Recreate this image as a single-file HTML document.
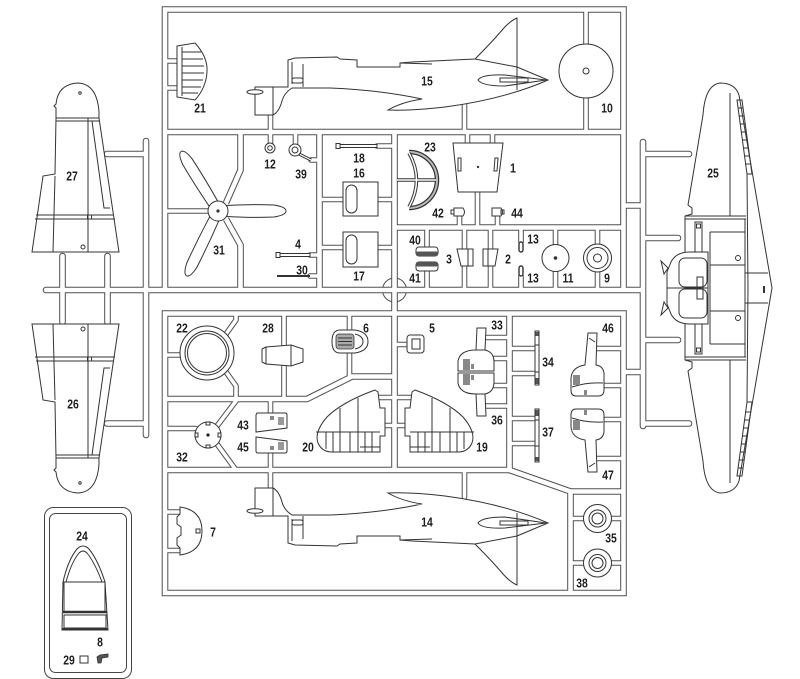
<!DOCTYPE html>
<html><head><meta charset="utf-8">
<style>
html,body{margin:0;padding:0;background:#fff;width:800px;height:679px;overflow:hidden}
svg{display:block}
.rd{fill:none;stroke:#505050;stroke-width:6.6}
.rw{fill:none;stroke:#fff;stroke-width:4.6}
.sd{fill:none;stroke:#505050;stroke-width:6.6;stroke-linecap:round}
.sw{fill:none;stroke:#fff;stroke-width:4.6;stroke-linecap:round}
.gd{fill:none;stroke:#505050;stroke-width:5.6;stroke-linecap:round;stroke-linejoin:round}
.gw{fill:none;stroke:#fff;stroke-width:3.6;stroke-linecap:round;stroke-linejoin:round}
.p{fill:#fff;stroke:#333;stroke-width:1}
.l{fill:none;stroke:#333;stroke-width:1}
.t{font-family:"Liberation Sans",Arial,sans-serif;font-weight:bold;font-size:13px;fill:#1e1e1e;text-anchor:middle}
</style></head>
<body>
<svg width="800" height="679" viewBox="0 0 800 679" xmlns="http://www.w3.org/2000/svg" xmlns:xlink="http://www.w3.org/1999/xlink">
<defs>
<path id="R" d="M165,290 L165,9.5 L623.5,9.5 L623.5,290 M165,132 L623.5,132 M240.5,132 L240.5,170 L226,203 M226,219 L240.5,245 L240.5,290 M319.5,132 L319.5,290 M394.5,132 L394.5,470 M394.5,227.5 L623.5,227.5 M165,313.5 L623.5,313.5 L623.5,593 L165,593 Z M165,399 L307,399 L352,376.5 L394.5,376.5 M165,470 L509.5,470 M509.5,313.5 L509.5,470 L570.5,491.5 L623.5,491.5 M570.5,491.5 L570.5,593 M623.5,205.5 L643,205.5 M623.5,372 L643,372"/>
<path id="S" d="M46,290 L643,290 M146,141 L146,435 M107,154 L146,154 M107,423.5 L146,423.5 M62.5,256 L62.5,322 M107.5,256 L107.5,322 M643,142 L643,426 M643,154 L689,154 M643,238 L678,238 M643,340 L678,340 M643,423.5 L689,423.5"/>
<path id="G" d="M166,61 L178,61 M166,88 L178,88 M586,10 L586,44 M586,98 L586,132 M270.5,114 L270.5,132 M464.5,105 L464.5,132 M270.5,132 L270.5,143 M295.5,132 L295.5,145 M311,160 L319.5,160 M165,211 L209,211 M310,255 L319.5,255 M310,276 L319.5,276 M377,146 L394.5,146 M319.5,199.5 L343,199.5 M378,199.5 L394.5,199.5 M319.5,247.5 L343,247.5 M378,247.5 L394.5,247.5 M467.5,132 L467.5,143 M492.5,132 L492.5,143 M477.5,192 L477.5,227.5 M459.5,217 L459.5,227.5 M497.5,217 L497.5,227.5 M427,227.5 L427,248 M427,270 L427,290 M464.5,227.5 L464.5,249 M464.5,266 L464.5,290 M490.5,227.5 L490.5,249 M490.5,266 L490.5,290 M521,227.5 L521,242 M521,276 L521,290 M555.5,227.5 L555.5,245 M555.5,271 L555.5,290 M597.5,227.5 L597.5,244 M597.5,272 L597.5,290 M165,355 L181,355 M226,334 L236,320 L236,313.5 M226,372 L236,386 L236,399 M284,313.5 L284,346 M284,365 L284,399 M349.5,313.5 L349.5,331 M349.5,352 L349.5,376.5 M394.5,344.5 L408,344.5 M165,428.5 L196,428.5 M217,426 L236,401 M217,444 L236,470 M270.5,399 L270.5,414 M270.5,452 L270.5,470 M378,397.5 L411,397.5 M378,425.5 L411,425.5 M486,337.5 L509.5,337.5 M493,358.5 L509.5,358.5 M493,385.5 L509.5,385.5 M486,406 L509.5,406 M509.5,348.5 L536,348.5 M509.5,373.5 L536,373.5 M509.5,418.5 L536,418.5 M509.5,443.5 L536,443.5 M597,348.5 L623.5,348.5 M603,385.5 L623.5,385.5 M603,419.5 L623.5,419.5 M597,458.5 L623.5,458.5 M165,512 L181,512 M165,550.5 L181,550.5 M270.5,470 L270.5,488 M464.5,470 L464.5,497 M570.5,518.5 L584,518.5 M611,518.5 L623.5,518.5 M570.5,563 L584,563 M611,563 L623.5,563"/>
<g id="W27">
<path class="p" d="M56,118 L56,108 L54,106 L56,104 Q58,84 78,83 Q97,84 99,112 L99,118 L119,252 L32,252 L43,176 L55,174 Z"/>
<path class="l" d="M56,118 L99,118 M56,121 L100,121 M55,176 L53,252 M88,118 L88,252 M92,121 L104,208 L110,208 M36,215 L114,215 M35,219 L115,219"/>
<rect class="l" x="87.5" y="215" width="4" height="4"/>
<circle class="l" cx="83" cy="247" r="2"/>
<circle class="l" cx="80" cy="93" r="1.2"/>
</g>
<g id="W25">
<path class="l" d="M730,93 L730,216 M737,100 L742,100 L752,174 L747,174 Z M738,108 L743,108 M739,116 L744,116 M740,124 L745,124 M741,132 L746,132 M742,140 L747,140 M743,148 L748,148 M744,156 L749,156 M745,164 L750,164 M747,174 L748,288 M685,216 L746,216 M685,219 L746,219 M710,232 L710,288 M745,219 L745,288 M710,232 L745,232 M710,265 L745,265 M745,273 L768,273"/>
<circle class="l" cx="738" cy="258" r="2.5"/>
<rect class="p" x="695" y="222" width="7" height="30"/>
<rect class="l" x="696.5" y="224" width="4" height="4"/>
<path class="p" d="M668,268 L661,261 L664,274 Z"/>
<path class="p" d="M708,288 L667,288 L667,272 L671,262 Q676,252 690,252 L708,252 Z"/>
<rect class="l" x="679" y="258" width="28" height="29" rx="6"/>
<rect class="l" x="697" y="277" width="6" height="11"/>
</g>
<g id="F15">
<path class="p" d="M255,87 L288,87 L288,60 L295,58 L337,57 L340,59 L357,60 L357,67 L400,67 L400,63 L412,62 L475,59 Q492,42 503,29 Q510,21 517,18 L517,67 L548,80 Q505,99 445,107 Q410,111 388,110 Q402,102 422,99 Q380,90 330,88 L292,88 Q284,93 282,101 Q279,112 273,115 L255,115 Z"/>
<path class="l" d="M475,59 L517,67 M517,67 L517,90 M400,63 L432,64 M292,62 L292,84 M303,64 L303,87 M478,80 Q482,74 505,75 L546,80 L505,86 Q482,86 478,80 Z M500,78 L528,78 L528,82 L500,82 Z M273,87 L273,115"/>
<rect class="l" x="292" y="78" width="11" height="5" rx="2"/>
<ellipse class="p" cx="255" cy="92" rx="8" ry="2.3"/>
</g>
<g id="P19">
<path class="p" d="M415,390 Q448,402 463,417 Q476,432 472,443 Q468,452 458,452 L410,452 L410,436 L405,436 L405,408 L410,408 L412,392 Z"/>
<path class="l" d="M432,398 L432,452 M450,408 L450,452 M410,432 L474,432 M418,432 L418,452 M425,432 L425,452 M440,432 L440,452 M457,432 L457,452 M464,432 L464,449 M410,447 L430,447"/>
</g>
<g id="P33">
<path class="p" d="M477,328 L486,328 L485,350 Q494,352 494,362 L494,371 L458,371 L458,361 Q460,350 476,350 Z"/>
<path class="l" d="M476,350 L485,350"/>
<rect x="463" y="359" width="7" height="11" fill="#888"/><rect x="471" y="364" width="3" height="5" fill="#888"/>
</g>
<g id="P46">
<path class="p" d="M588,333 L597,333 L596,365 Q603,366 604,373 L604,390 Q604,396 598,396 L576,396 Q571,396 571,390 L571,378 Q572,367 585,365 Z"/>
<path class="l" d="M572,387 Q587,382 603,383 M589,338 L595,342"/>
<rect x="573" y="375" width="7" height="10" fill="#888"/><rect x="584" y="390" width="3" height="5" fill="#888"/>
</g>
<g id="RING">
<circle class="p" cx="0" cy="0" r="14"/><circle class="l" cx="0" cy="0" r="8.5"/><circle class="l" cx="0" cy="0" r="5.5"/>
</g>
</defs>

<rect width="800" height="679" fill="#fff"/>

<!-- runners: dark pass then white pass -->
<use href="#R" xlink:href="#R" class="rd"/>
<use href="#S" xlink:href="#S" class="sd"/>
<use href="#G" xlink:href="#G" class="gd"/>
<circle cx="394.5" cy="290" r="12" fill="none" stroke="#505050" stroke-width="1"/>
<use href="#R" xlink:href="#R" class="rw"/>
<use href="#S" xlink:href="#S" class="sw"/>
<use href="#G" xlink:href="#G" class="gw"/>

<!-- left wings -->
<use href="#W27" xlink:href="#W27"/>
<use href="#W27" xlink:href="#W27" transform="translate(0,576) scale(1,-1)"/>

<!-- right wing -->
<path class="p" d="M703,115 Q705,85 720,83 Q735,83 739,95 L772,288 L739,481 Q735,493 720,493 Q705,491 703,461 L688,371 L692,368 L692,362 L685,360 L685,216 L692,214 L692,208 L688,205 Z"/>
<use href="#W25" xlink:href="#W25"/>
<use href="#W25" xlink:href="#W25" transform="translate(0,576) scale(1,-1)"/>
<rect x="763" y="286" width="2" height="7" fill="#333"/>

<!-- top compartment -->
<path class="p" d="M177,46 L195,43 Q208,57 207,72 Q206,88 195,100 L177,97 Z"/>
<path class="l" d="M182,47 L182,96 M182,52 L201,52 M182,59 L203,59 M182,66 L204,66 M182,73 L204,73 M182,80 L203,80 M182,87 L201,87 M182,93 L198,93"/>
<use href="#F15" xlink:href="#F15"/>
<circle class="p" cx="586" cy="71" r="27"/>
<circle class="l" cx="586" cy="71" r="3"/>

<!-- propeller 31 -->
<g transform="translate(218,211)">
<path class="p" transform="rotate(-121.8)" d="M9,-5 Q35,-6 58,-5.5 Q70,-4 70,0 Q70,4 58,5.5 Q35,6 9,5 Z"/>
<path class="p" transform="rotate(115.8)" d="M9,-5 Q35,-6 60,-5.5 Q72,-4 72,0 Q72,4 60,5.5 Q35,6 9,5 Z"/>
<path class="p" d="M9,-5.5 Q35,-7 56,-6 Q68,-4 68,0 Q68,4 56,6 Q35,7 9,5.5 Z"/>
<circle class="p" r="10"/>
<circle r="1.6" fill="#333"/>
</g>

<circle class="p" cx="270" cy="148" r="5"/><circle class="l" cx="270" cy="148" r="2.3"/>
<path d="M299,154 L311,160" stroke="#333" stroke-width="3.2" fill="none"/>
<path d="M299,154 L311,160" stroke="#fff" stroke-width="1.2" fill="none"/>
<circle class="p" cx="295" cy="150" r="6"/><circle class="l" cx="295" cy="150" r="3"/>
<rect class="p" x="279" y="253.5" width="31" height="3"/><rect class="p" x="276" y="252.5" width="4" height="5"/>
<path d="M277,276 L310,276" stroke="#333" stroke-width="2" fill="none"/>

<rect class="p" x="339" y="144.5" width="38" height="3"/><rect class="p" x="336" y="143.5" width="4" height="5"/>
<rect class="p" x="343" y="182" width="35" height="34"/>
<rect class="p" x="346" y="185" width="11" height="28" rx="5.5" stroke-width="1.3"/>
<rect class="p" x="343" y="232" width="35" height="35"/>
<rect class="p" x="346" y="235" width="11" height="29" rx="5.5" stroke-width="1.3"/>

<path d="M409,152 A28,28 0 0 1 409,208" stroke="#333" stroke-width="4.5" fill="none"/>
<path d="M409,152 A28,28 0 0 1 409,208" stroke="#bbb" stroke-width="2" fill="none"/>
<path d="M397,180 L436,180 M409,153 Q424,180 409,207" stroke="#333" stroke-width="3.5" fill="none"/>
<path d="M397,180 L436,180 M409,153 Q424,180 409,207" stroke="#fff" stroke-width="1.5" fill="none"/>

<path class="p" d="M453,143 L503,143 L497,192 L458,192 Z"/>
<path class="l" d="M458,158 L461,158 L461,171 L458,171 Z M495,158 L498,158 L497,171 L494,171 Z"/>
<circle cx="478" cy="167" r="1.2" fill="#333"/>
<path class="p" d="M454,208 L463,208 Q466,212 463,216 L454,216 Z M451,210 L454,210 L454,214 L451,214 Z"/>
<path class="p" d="M492,208 L501,208 Q504,212 501,216 L492,216 Z M501,210 L504,210 L504,214 L501,214 Z"/>

<rect class="p" x="416" y="247" width="22" height="9" rx="3"/><rect x="416" y="251.5" width="22" height="4.5" rx="2" fill="#555"/>
<rect class="p" x="416" y="262" width="22" height="9" rx="3"/><rect x="416" y="262" width="22" height="4.5" rx="2" fill="#555"/>
<path class="p" d="M457,249 L473,249 L473,266 L461,266 Z"/><path class="l" d="M468,249 L468,266"/>
<path class="p" d="M483,249 L498,249 L495,266 L483,266 Z"/><path class="l" d="M488,249 L488,266"/>
<rect x="519" y="242" width="4" height="10" rx="2" fill="#fff" stroke="#333" stroke-width="1.4"/>
<rect x="519" y="266" width="4" height="10" rx="2" fill="#fff" stroke="#333" stroke-width="1.4"/>
<circle class="p" cx="555.5" cy="258" r="13.5"/><circle cx="555.5" cy="258" r="1.8" fill="#333"/>
<circle class="p" cx="597.5" cy="258" r="14"/><circle class="l" cx="597.5" cy="258" r="10.5"/><circle class="l" cx="597.5" cy="258" r="4"/>

<!-- lower section -->
<circle class="p" cx="207" cy="353" r="27"/>
<circle class="l" cx="207" cy="353" r="22" stroke-width="1.3"/>
<circle class="l" cx="207" cy="353" r="19.5" stroke-width="1.3"/>
<path class="p" d="M266,347 L291,345 L303,349 L303,362 L291,366 L266,364 Z"/>
<path class="l" d="M291,345 L291,366 M262,349 L262,362 M262,349 L266,347 M262,362 L266,364"/>
<path class="p" d="M340,330 L355,330 Q368,332 368,341.5 Q368,351 355,353 L340,353 Q332,353 332,341.5 Q332,330 340,330 Z"/>
<rect x="336" y="334" width="18" height="15" rx="3" fill="#aaa" stroke="#333" stroke-width="0.8"/>
<path class="l" d="M338,338 L352,338 M338,341.5 L352,341.5 M338,345 L352,345 M355,334 Q363,336 363,341.5 Q363,347 355,349"/>
<rect class="p" x="407" y="335" width="17" height="18" rx="3" stroke-width="1.3"/>
<rect class="l" x="412" y="339" width="8" height="10"/>

<circle class="p" cx="208" cy="435" r="13"/>
<circle cx="208" cy="435" r="1.6" fill="#222"/>
<path class="l" d="M206,422 L210,422 L210,425 L206,425 Z M206,445 L210,445 L210,448 L206,448 Z M195,433 L198,433 L198,437 L195,437 Z M218,433 L221,433 L221,437 L218,437 Z"/>

<path class="p" d="M257,413 L285,413 Q287,413 287,415 L287,428 L256,432 L256,415 Z"/>
<path class="p" d="M256,437 L287,441 L287,451 Q287,453 285,453 L258,453 Q256,453 256,451 Z"/>
<rect x="270" y="416" width="4" height="4" fill="#888"/><rect x="278" y="417" width="6" height="8" fill="#999"/>
<rect x="270" y="446" width="4" height="4" fill="#888"/><rect x="278" y="442" width="6" height="8" fill="#999"/>

<use href="#P19" xlink:href="#P19"/>
<use href="#P19" xlink:href="#P19" transform="translate(790,0) scale(-1,1)"/>
<use href="#P33" xlink:href="#P33"/>
<use href="#P33" xlink:href="#P33" transform="translate(0,744) scale(1,-1)"/>

<rect class="p" x="535" y="331" width="4" height="54"/>
<rect x="535.5" y="378" width="3" height="6" fill="#555"/><rect x="535.5" y="332" width="3" height="4" fill="#555"/>
<path class="l" d="M535,345 L539,345 M535,372 L539,372"/>
<rect class="p" x="535" y="409" width="4" height="53"/>
<rect x="535.5" y="410" width="3" height="6" fill="#555"/><rect x="535.5" y="457" width="3" height="4" fill="#555"/>
<path class="l" d="M535,420 L539,420 M535,446 L539,446"/>

<use href="#P46" xlink:href="#P46"/>
<use href="#P46" xlink:href="#P46" transform="translate(0,805) scale(1,-1)"/>

<!-- bottom compartment -->
<path class="p" d="M180,507 Q202,510 202,531 Q202,552 180,555 L180,548 L177,545 L177,538 L181,535 L181,527 L177,524 L177,517 L180,514 Z"/>
<rect class="l" x="196" y="529" width="4" height="4"/>
<use href="#F15" xlink:href="#F15" transform="translate(0,603) scale(1,-1)"/>
<use href="#RING" xlink:href="#RING" transform="translate(597.5,518.5)"/>
<use href="#RING" xlink:href="#RING" transform="translate(597.5,563)"/>

<!-- clear sprue -->
<rect x="44.5" y="507.5" width="87" height="171" rx="9" fill="none" stroke="#444" stroke-width="1"/>
<rect x="49.5" y="513.5" width="77" height="159" rx="6" fill="none" stroke="#444" stroke-width="1"/>
<path class="p" d="M62,630 L63,582 Q68,560 77,549 Q83,543 89,549 Q98,560 105,582 L108,630 Z" stroke-width="1.3"/>
<path class="l" d="M66,582 Q71,563 79,553 Q83,549 87,553 Q95,563 102,582"/>
<rect class="l" x="64" y="582" width="41" height="30"/>
<path d="M63,612 L107,612" stroke="#333" stroke-width="2.5"/>
<rect class="l" x="64" y="615" width="42" height="13"/>
<path d="M62,629 L108,629" stroke="#333" stroke-width="2"/>
<rect class="l" x="80" y="656" width="8" height="7"/>
<path d="M97,657 L100,655 L108,654 L108,657 L102,658 L101,663 L98,663 Z" fill="#555" stroke="#333" stroke-width="0.8"/>

<!-- labels, condensed -->
<g transform="scale(0.8,1)">
<text class="t" x="90" y="180.5">27</text>
<text class="t" x="91.25" y="408.5">26</text>
<text class="t" x="891.25" y="177.5">25</text>
<text class="t" x="250" y="112.5">21</text>
<text class="t" x="533.75" y="85.5">15</text>
<text class="t" x="758.75" y="112.5">10</text>
<text class="t" x="273.75" y="254.5">31</text>
<text class="t" x="337.5" y="168.5">12</text>
<text class="t" x="376.25" y="178.5">39</text>
<text class="t" x="372.5" y="248.5">4</text>
<text class="t" x="377.5" y="274.5">30</text>
<text class="t" x="448.75" y="162.5">18</text>
<text class="t" x="448.75" y="177.5">16</text>
<text class="t" x="448.75" y="280.5">17</text>
<text class="t" x="537.5" y="151.5">23</text>
<text class="t" x="641.25" y="172.5">1</text>
<text class="t" x="547.5" y="217.5">42</text>
<text class="t" x="646.25" y="217.5">44</text>
<text class="t" x="518.75" y="244.5">40</text>
<text class="t" x="518.75" y="282.5">41</text>
<text class="t" x="561.25" y="263.5">3</text>
<text class="t" x="635" y="263.5">2</text>
<text class="t" x="666.25" y="243.5">13</text>
<text class="t" x="666.25" y="282.5">13</text>
<text class="t" x="710" y="282.5">11</text>
<text class="t" x="758.75" y="282.5">9</text>
<text class="t" x="227.5" y="332.5">22</text>
<text class="t" x="335" y="332.5">28</text>
<text class="t" x="457.5" y="332.5">6</text>
<text class="t" x="540" y="332.5">5</text>
<text class="t" x="227.5" y="461.5">32</text>
<text class="t" x="303.75" y="429.5">43</text>
<text class="t" x="303.75" y="451.5">45</text>
<text class="t" x="385" y="451.5">20</text>
<text class="t" x="602.5" y="451.5">19</text>
<text class="t" x="621.25" y="329.5">33</text>
<text class="t" x="621.25" y="424.5">36</text>
<text class="t" x="685" y="366.5">34</text>
<text class="t" x="685" y="436.5">37</text>
<text class="t" x="760" y="332.5">46</text>
<text class="t" x="760" y="479.5">47</text>
<text class="t" x="266.25" y="536.5">7</text>
<text class="t" x="533.75" y="526.5">14</text>
<text class="t" x="763.75" y="542.5">35</text>
<text class="t" x="727.5" y="587.5">38</text>
<text class="t" x="102.5" y="540.5">24</text>
<text class="t" x="125" y="646.5">8</text>
<text class="t" x="86.25" y="664.5">29</text>
</g>
</svg>
</body></html>
